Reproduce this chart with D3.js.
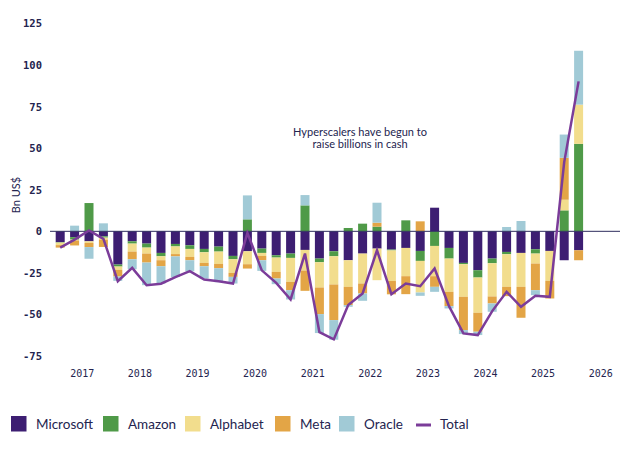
<!DOCTYPE html>
<html>
<head>
<meta charset="utf-8">
<script src="https://cdn.jsdelivr.net/npm/d3@7"></script>
<style>
  html, body { margin: 0; padding: 0; background: #ffffff; }
  svg { display: block; }
</style>
</head>
<body>
<svg id="chart" width="630" height="450"></svg>
<script>
// ---- Data (Bn US$, quarterly, Q3 2016 .. Q3 2025) ----
const quarters = ["Q3 2016","Q4 2016","Q1 2017","Q2 2017","Q3 2017","Q4 2017","Q1 2018","Q2 2018","Q3 2018","Q4 2018",
  "Q1 2019","Q2 2019","Q3 2019","Q4 2019","Q1 2020","Q2 2020","Q3 2020","Q4 2020","Q1 2021","Q2 2021",
  "Q3 2021","Q4 2021","Q1 2022","Q2 2022","Q3 2022","Q4 2022","Q1 2023","Q2 2023","Q3 2023","Q4 2023",
  "Q1 2024","Q2 2024","Q3 2024","Q4 2024","Q1 2025","Q2 2025","Q3 2025"];
const microsoft = [-6.5,-3.5,-6,-3,-20,-6,-7.4,-13,-7.6,-8.4,-10.6,-9.2,-14.8,-12,-10.4,-14.4,-13.4,-11.2,-16.4,-12,
  -17.4,-13.4,-10.4,-11,-10,-11.8,14.2,-10,-19,-23.4,-16.4,-12.4,-13,-10.8,-11.8,-17.4,-11.4];
const amazon = [-0.3,-1.5,17,-0.8,-1.2,-1.4,-2.4,-2,-1.5,-2.2,-2,-3,-2,7.2,-2.6,-1.4,-2.6,15.6,-2.2,-3,
  2,4.6,2.8,-0.5,6.6,-6,-8.8,-6.4,-0.8,-4.4,-2.8,-1.4,0,-2.6,0,12.6,52.6];
const alphabet = [-1.5,-0.5,-1,-1.2,-2,-4.8,-3.6,-2.4,-4.6,-4.8,-6.4,-7.4,-8.2,-7.8,-1.8,-8.6,-14.4,-12.4,-15.2,-17,
  -16,-18,-19,-18.4,-17,-19,-18.2,-20,-19.6,-21.2,-20,-19.6,-20.4,-6,-18,6.4,23.6];
const meta = [-1.5,-3,-2.5,-4.4,-4,-4.6,-5.4,-3.6,-1.4,-2,-2,-2.6,-2.4,-2.6,-2.6,-4,-5,-12.2,-16,-21.4,
  -11,-6,2.4,-8,-10.8,6,-6.4,-8.6,-20,-11.4,-4.2,-5.6,-18.6,-16,-10.6,25.2,-6];
const oracle = [0,3.4,-7,4.8,-2.6,-6,-13.6,-10.4,-12.4,-6.6,-7.4,-8.4,-4,14.4,-6.4,-3.4,-5.6,6.2,-11.4,-11.8,
  -1,-4.4,12,0,0,-2,-3,-1.4,-2.4,-2,-5,2.6,6.2,-3,0,14,32.4];
const total = [-9.8,-5,0.5,-4.5,-30,-22,-32.4,-31.5,-27.5,-24,-29,-30,-31.4,-1,-23.5,-31,-41,-13.4,-60.6,-65,
  -44.4,-37.4,-11.4,-37.8,-31.4,-33,-22.4,-45,-61.4,-62.4,-48,-36.4,-45.4,-38.8,-39.4,41.6,90.2];
const seriesNames = ["Microsoft","Amazon","Alphabet","Meta","Oracle"];
const seriesColors = ["#3d1e72","#4f9a48","#f2dd8d","#e3a546","#a1cad6"];
const totalColor = "#7b3c99";
const yTicks = [125,100,75,50,25,0,-25,-50,-75];
const yearLabels = ["2017","2018","2019","2020","2021","2022","2023","2024","2025","2026"];

// ---- Build table ----
const seriesValues = [microsoft, amazon, alphabet, meta, oracle];
const table = quarters.map((q, i) => {
  const row = { q, i };
  seriesNames.forEach((k, j) => row[k] = seriesValues[j][i]);
  return row;
});

const svg = d3.select("#chart");
const ink = "#24244f";

const x = d3.scaleLinear().domain([0, 36]).range([60.2, 578.6]);
const y = d3.scaleLinear().domain([-75, 125]).range([356, 23.5]);
const barW = 9;

const stack = d3.stack().keys(seriesNames).offset(d3.stackOffsetDiverging);
const stacked = stack(table);

// Bars
svg.append("g").selectAll("g")
  .data(stacked)
  .join("g")
  .attr("fill", (d, j) => seriesColors[j])
  .selectAll("rect")
  .data(d => d)
  .join("rect")
  .attr("x", d => x(d.data.i) - barW / 2)
  .attr("width", barW)
  .attr("y", d => y(Math.max(d[0], d[1])))
  .attr("height", d => Math.abs(y(d[0]) - y(d[1])));

// Zero line
svg.append("line")
  .attr("x1", 50).attr("x2", 620)
  .attr("y1", y(0)).attr("y2", y(0))
  .attr("stroke", "#2e2d5e").attr("stroke-width", 1);

// Total line
const line = d3.line().x((d, i) => x(i)).y(d => y(d));
svg.append("path")
  .datum(total)
  .attr("d", line)
  .attr("fill", "none")
  .attr("stroke", totalColor)
  .attr("stroke-width", 2.5)
  .attr("stroke-linejoin", "miter");

// Y axis labels
const yAxis = d3.axisLeft(y).tickValues(yTicks).tickSize(0).tickPadding(0)
  .tickFormat(d => d < 0 ? "-" + Math.abs(d) : String(d));
const gy = svg.append("g").attr("transform", "translate(42,0)").call(yAxis);
gy.select(".domain").remove();
gy.selectAll("text")
  .attr("fill", ink)
  .style("font-family", "'DejaVu Sans Mono', monospace")
  .style("font-weight", "bold")
  .style("font-size", "10.5px");

// X axis (year labels)
const yearPos = yearLabels.map((t, k) => 1.5 + 4 * k);
const xAxis = d3.axisBottom(x).tickValues(yearPos).tickSize(0).tickPadding(0)
  .tickFormat((d, k) => yearLabels[k]);
const gx = svg.append("g").attr("transform", "translate(0,370)").call(xAxis);
gx.select(".domain").remove();
gx.selectAll("text")
  .attr("fill", ink)
  .style("font-family", "'DejaVu Sans Mono', monospace")
  .style("font-size", "10px");

// Y axis title
svg.append("text")
  .attr("transform", "translate(20,195) rotate(-90)")
  .attr("text-anchor", "middle")
  .attr("fill", ink)
  .style("font-family", "Lato, sans-serif")
  .style("font-size", "11px")
  .text("Bn US$");

// Annotation (two separate lines)
const annLines = ["Hyperscalers have begun to", "raise billions in cash"];
svg.append("g").selectAll("text")
  .data(annLines)
  .join("text")
  .attr("x", 360)
  .attr("y", (d, k) => 135.5 + k * 12.5)
  .attr("text-anchor", "middle")
  .attr("fill", ink)
  .style("font-family", "Lato, sans-serif")
  .style("font-size", "11px")
  .text(d => d);

// Legend
const legendX = [11, 103, 185, 275, 339];
const lg = svg.append("g");
seriesNames.forEach((name, j) => {
  lg.append("rect").attr("x", legendX[j]).attr("y", 416).attr("width", 15.5).attr("height", 15.5)
    .attr("fill", seriesColors[j]);
  lg.append("text").attr("x", legendX[j] + 25).attr("y", 429)
    .attr("fill", ink)
    .style("font-family", "Lato, sans-serif").style("font-size", "13.5px")
    .text(name);
});
lg.append("line").attr("x1", 416).attr("x2", 431).attr("y1", 425).attr("y2", 425)
  .attr("stroke", totalColor).attr("stroke-width", 3);
lg.append("text").attr("x", 440).attr("y", 429)
  .attr("fill", ink)
  .style("font-family", "Lato, sans-serif").style("font-size", "13.5px")
  .text("Total");
</script>
</body>
</html>
